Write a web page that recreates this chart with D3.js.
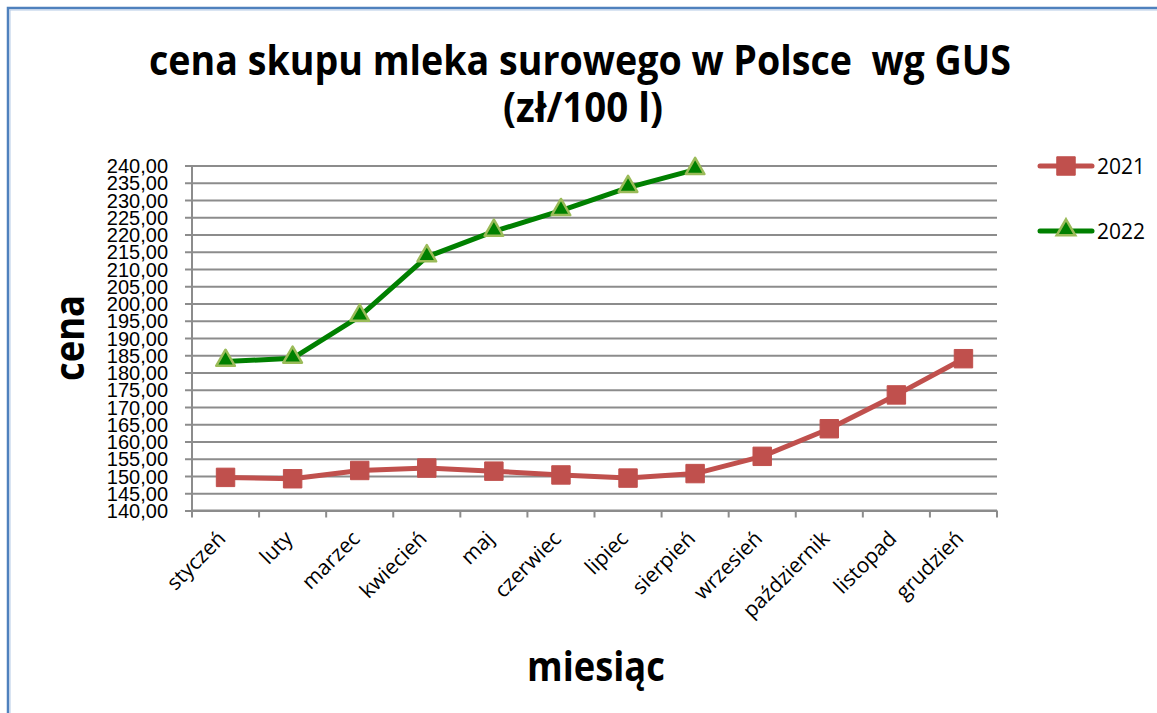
<!DOCTYPE html>
<html>
<head>
<meta charset="utf-8">
<script src="https://cdn.jsdelivr.net/npm/d3@7"></script>
<style>
  html, body { margin: 0; padding: 0; background: #fff; }
  svg { display: block; font-family: "Open Sans", "DejaVu Sans", sans-serif; }
</style>
</head>
<body>
<div id="chart"></div>
<script>
// dane
const months = ["styczeń", "luty", "marzec", "kwiecień", "maj", "czerwiec",
                "lipiec", "sierpień", "wrzesień", "październik", "listopad", "grudzień"];
const values2021 = [149.6, 149.2, 151.6, 152.3, 151.4, 150.3, 149.4, 150.7, 155.7, 163.7, 173.5, 184.0];
const values2022 = [183.2, 184.1, 196.3, 213.5, 220.9, 226.9, 233.6, 238.8];
const seriesNames = ["2021", "2022"];
const yTicks = d3.range(140, 241, 5);

const W = 1157, H = 713;
const plot = { left: 192, right: 997, top: 165.5, bottom: 510.5 };

const svg = d3.select("#chart").append("svg")
  .attr("width", W).attr("height", H)
  .attr("viewBox", [0, 0, W, H]);

// ramka
svg.append("rect")
  .attr("x", 8).attr("y", 8)
  .attr("width", W + 20).attr("height", H + 20)
  .attr("fill", "none").attr("stroke", "#4f81bd").attr("stroke-width", 2.5);
svg.append("rect")
  .attr("x", 10).attr("y", 10)
  .attr("width", W + 20).attr("height", H + 20)
  .attr("fill", "none").attr("stroke", "#b4c9e6").attr("stroke-width", 1);

const x = d3.scaleBand().domain(months).range([plot.left, plot.right]);
const y = d3.scaleLinear().domain([140, 240]).range([plot.bottom, plot.top]);
const cx = m => x(m) + x.bandwidth() / 2;

const fmt = d => d3.format(".2f")(d).replace(".", ",");

// ściśnięcie tekstu w poziomie (Calibri jest węższy niż Open Sans)
function squeeze(sel, targetW, x0, y0, rot) {
  const w = sel.node().getComputedTextLength();
  const k = Math.min(1, targetW / w);
  sel.attr("transform", `translate(${x0},${y0})${rot ? ` rotate(${rot})` : ""} scale(${k},1)`);
}

// siatka
svg.append("g")
  .attr("transform", `translate(${plot.left},0)`)
  .call(d3.axisLeft(y).tickValues(yTicks).tickSize(-(plot.right - plot.left)).tickFormat(""))
  .call(g => g.select(".domain").remove())
  .call(g => g.selectAll("line").attr("stroke", "#8c8c8c").attr("stroke-width", 2));

// oś Y
const yAxis = svg.append("g")
  .attr("transform", `translate(${plot.left},0)`)
  .call(d3.axisLeft(y).tickValues(yTicks).tickSize(7).tickPadding(17).tickFormat(fmt));
yAxis.select(".domain").attr("stroke", "#8c8c8c").attr("stroke-width", 2)
  .attr("d", `M0,${plot.top}V${plot.bottom}`);
yAxis.selectAll("line").attr("stroke", "#8c8c8c").attr("stroke-width", 2);
yAxis.selectAll("text")
  .attr("fill", "#000").attr("font-size", 20)
  .attr("dy", "0.36em");

// oś X
const xTickPos = months.map(m => x(m)).concat([plot.right]);
const xAxis = svg.append("g")
  .attr("transform", `translate(0,${plot.bottom})`);
xAxis.append("path")
  .attr("d", `M${plot.left},0H${plot.right}`)
  .attr("stroke", "#8c8c8c").attr("stroke-width", 2);
xAxis.selectAll("line").data(xTickPos).join("line")
  .attr("x1", d => d).attr("x2", d => d)
  .attr("y1", 0).attr("y2", 7)
  .attr("stroke", "#8c8c8c").attr("stroke-width", 2);
xAxis.selectAll("text").data(months).join("text")
  .attr("transform", d => `translate(${cx(d) - 9},${19}) rotate(-45)`)
  .attr("text-anchor", "end")
  .attr("dy", "0.7em")
  .attr("font-size", 21)
  .attr("fill", "#000")
  .text(d => d);

// linie
const line = d3.line().x((d, i) => cx(months[i])).y(d => y(d));

svg.append("path").datum(values2021)
  .attr("d", line).attr("fill", "none")
  .attr("stroke", "#c0504d").attr("stroke-width", 5).attr("stroke-linejoin", "round");
svg.append("path").datum(values2022)
  .attr("d", line).attr("fill", "none")
  .attr("stroke", "#008000").attr("stroke-width", 5).attr("stroke-linejoin", "round");

const square = d3.symbol().type(d3.symbolSquare).size(340);
const tri = d3.symbol().type(d3.symbolTriangle).size(150);

svg.append("g").selectAll("path").data(values2021).join("path")
  .attr("transform", (d, i) => `translate(${cx(months[i])},${y(d)})`)
  .attr("d", square)
  .attr("fill", "#c0504d").attr("stroke", "#c0504d").attr("stroke-width", 1)
  .attr("stroke-linejoin", "round");

svg.append("g").selectAll("path").data(values2022).join("path")
  .attr("transform", (d, i) => `translate(${cx(months[i])},${y(d) - 1})`)
  .attr("d", tri)
  .attr("fill", "#008000").attr("stroke", "#9bbb59").attr("stroke-width", 2.5)
  .attr("stroke-linejoin", "round");

// legenda
const legend = svg.append("g");
const legY = [166, 231];
seriesNames.forEach((name, i) => {
  const g = legend.append("g").attr("transform", `translate(1040,${legY[i]})`);
  g.append("line").attr("x1", 0).attr("x2", 52)
    .attr("stroke", i ? "#008000" : "#c0504d").attr("stroke-width", 5)
    .attr("stroke-linecap", "round");
  g.append("path")
    .attr("transform", `translate(26,${i ? -1 : 0})`)
    .attr("d", i ? tri : square)
    .attr("fill", i ? "#008000" : "#c0504d")
    .attr("stroke", i ? "#9bbb59" : "#c0504d")
    .attr("stroke-width", i ? 2.5 : 1);
  g.append("text").attr("x", 57).attr("dy", "0.36em")
    .attr("font-size", 21).attr("fill", "#000")
    .text(name);
});

// tytuły
const big = 41;
const t1 = svg.append("text")
  .attr("text-anchor", "middle")
  .attr("font-size", big).attr("font-weight", "bold").attr("fill", "#000")
  .attr("xml:space", "preserve")
  .text("cena skupu mleka surowego w Polsce  wg GUS");
squeeze(t1, 862, 580, 75);
const t2 = svg.append("text")
  .attr("text-anchor", "middle")
  .attr("font-size", big).attr("font-weight", "bold").attr("fill", "#000")
  .text("(zł/100 l)");
squeeze(t2, 160, 583, 122);

const ty = svg.append("text")
  .attr("text-anchor", "middle")
  .attr("font-size", big).attr("font-weight", "bold").attr("fill", "#000")
  .text("cena");
squeeze(ty, 86, 84, 338, -90);

const tx = svg.append("text")
  .attr("text-anchor", "middle")
  .attr("font-size", big).attr("font-weight", "bold").attr("fill", "#000")
  .text("miesiąc");
squeeze(tx, 138, 596, 681);
</script>
</body>
</html>
